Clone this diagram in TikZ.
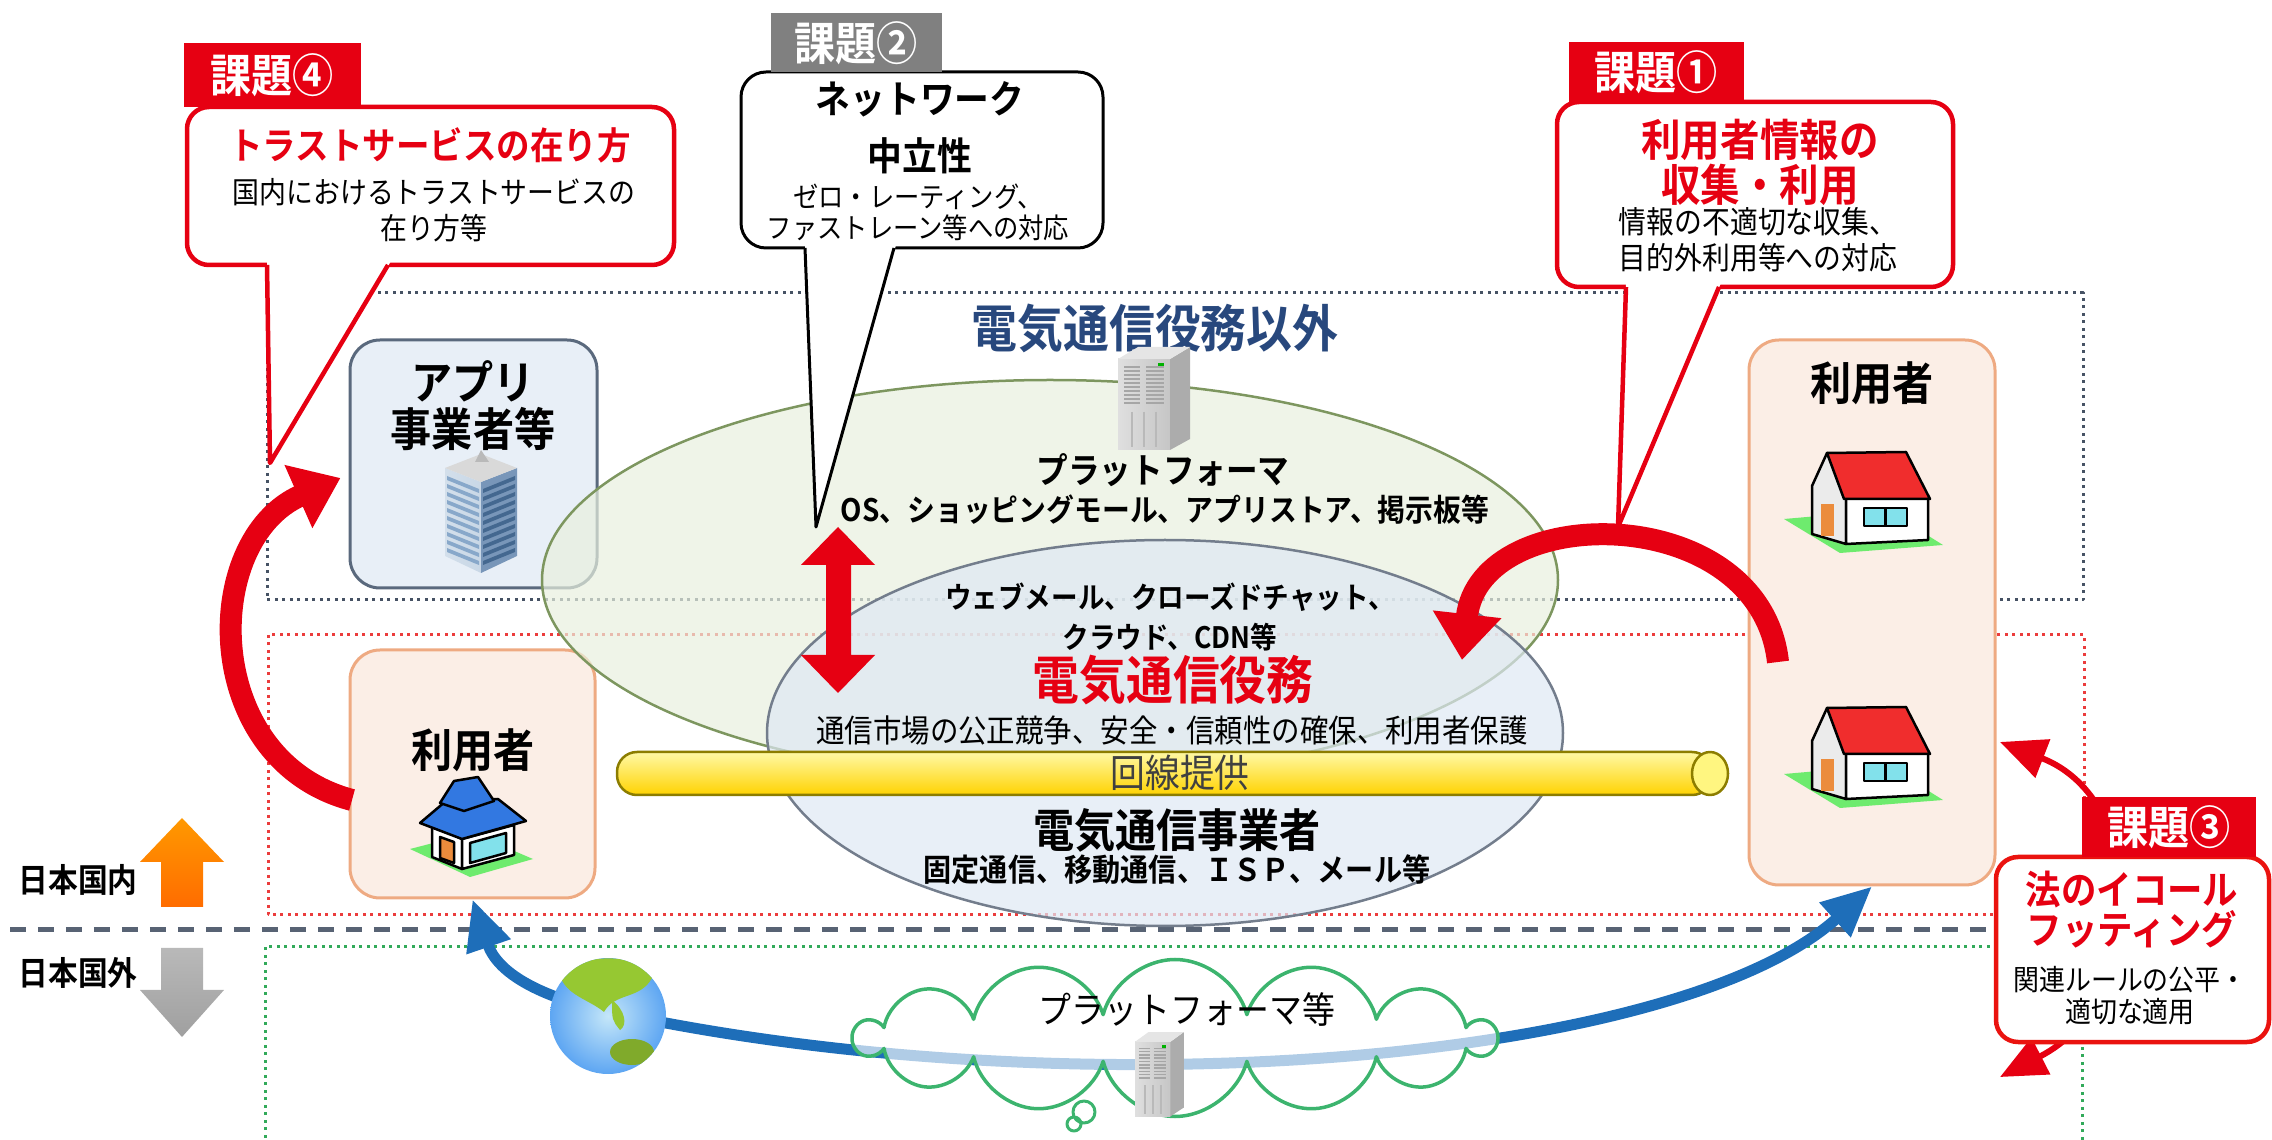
\documentclass[tikz,border=0pt]{standalone}
\usepackage{fontspec}
\setmainfont{Noto Sans CJK JP}[FakeStretch=0.9, BoldFont={Noto Sans CJK JP Bold}]
\usetikzlibrary{arrows.meta,shapes.symbols}

\definecolor{kred}{RGB}{230,0,18}
\definecolor{kgray}{RGB}{128,128,128}
\definecolor{navy}{RGB}{40,72,125}
\definecolor{slate}{RGB}{70,82,100}
\definecolor{dotred}{RGB}{235,60,60}
\definecolor{dotgreen}{RGB}{50,170,90}
\definecolor{pfgreen}{RGB}{232,240,222}
\definecolor{pfline}{RGB}{125,150,95}
\definecolor{tcblue}{RGB}{222,232,244}
\definecolor{tcline}{RGB}{115,125,140}
\definecolor{appfill}{RGB}{232,239,247}
\definecolor{appline}{RGB}{90,105,125}
\definecolor{userfill}{RGB}{251,238,230}
\definecolor{userline}{RGB}{238,170,130}
\definecolor{pipe}{RGB}{255,238,0}
\definecolor{pipeline}{RGB}{140,125,0}
\definecolor{arrowblue}{RGB}{30,110,185}
\definecolor{cloudline}{RGB}{60,180,110}
\definecolor{lawn}{RGB}{110,235,110}
\definecolor{roofred}{RGB}{240,45,45}
\definecolor{roofblue}{RGB}{50,120,225}
\definecolor{glass}{RGB}{130,225,235}
\definecolor{door}{RGB}{235,140,60}
\definecolor{landgreen}{RGB}{150,200,50}
\definecolor{sea}{RGB}{110,195,240}
\definecolor{towerlight}{RGB}{200,215,230}
\definecolor{towerdark}{RGB}{120,150,185}
\definecolor{towerband}{RGB}{85,130,180}

\newcommand{\fs}[2]{\fontsize{#1}{#2}\selectfont}

% small pictures: houses, tower, server
\newcommand{\redhouse}[1]{%
  \begin{scope}[shift={#1}, line width=0.25mm]
    \fill[lawn] (0,67) -- (103,58) -- (159,93) -- (56,101) -- cycle;
    \draw[fill=black!8] (28,34) -- (43,1) -- (62,45) -- (62,92) -- (28,82) -- cycle;
    \fill[door] (37,52) rectangle (50,84);
    \draw[fill=white] (62,45) -- (144,45) -- (144,88) -- (62,92) -- cycle;
    \draw[fill=roofred] (43,1) -- (122,0) -- (146,47) -- (60,47) -- cycle;
    \draw[fill=glass] (80,56) rectangle (123,74);
    \draw (101.5,56) -- (101.5,74);
  \end{scope}}
\newcommand{\bluehouse}[1]{%
  \begin{scope}[shift={#1}, line width=0.25mm]
    \fill[lawn] (0,74) -- (62,58) -- (123,84) -- (60,102) -- cycle;
    \draw[fill=white] (22,50) -- (52,64) -- (52,94) -- (22,82) -- cycle;
    \draw[fill=white] (52,64) -- (104,50) -- (104,80) -- (52,94) -- cycle;
    \draw[fill=glass] (60,68) -- (96,58) -- (96,78) -- (60,88) -- cycle;
    \draw[fill=door] (30,62) -- (44,67) -- (44,88) -- (30,83) -- cycle;
    \draw[fill=roofblue] (10,48) -- (52,64) -- (116,46) -- (88,24) -- (36,26) -- cycle;
    \draw[fill=roofblue] (30,28) -- (54,36) -- (84,26) -- (68,2) -- (44,6) -- cycle;
  \end{scope}}
\newcommand{\officetower}[1]{%
  \begin{scope}[shift={#1}]
    \shade[left color=towerlight!80!white, right color=towerlight] (0,18) -- (36,32) -- (36,123) -- (0,106) -- cycle;
    \fill[towerdark] (36,32) -- (72,18) -- (72,106) -- (36,123) -- cycle;
    \fill[gray!30] (0,18) -- (36,4) -- (72,18) -- (36,32) -- cycle;
    \fill[gray!55] (30,12) -- (36,0) -- (44,12) -- cycle;
    \foreach \k in {0,...,9} {
      \fill[towerband!70] (2,26+8*\k) -- (34,39+8*\k) -- (34,43+8*\k) -- (2,30+8*\k) -- cycle;
      \fill[towerband!80!black] (38,39+8*\k) -- (70,26+8*\k) -- (70,30+8*\k) -- (38,43+8*\k) -- cycle;
    }
  \end{scope}}
\newcommand{\servertower}[2]{%
  \begin{scope}[shift={#1}, #2]
    \shade[left color=gray!25, right color=gray!45] (0,12) rectangle (52,103);
    \fill[gray!65] (52,12) -- (72,0) -- (72,92) -- (52,103) -- cycle;
    \fill[gray!20] (0,12) -- (20,0) -- (72,0) -- (52,12) -- cycle;
    \foreach \k in {0,...,9}
      \draw[gray!70, line width=0.15mm] (6,20+4*\k) -- (22,20+4*\k) (28,20+4*\k) -- (46,20+4*\k);
    \fill[green!70!black] (40,16) rectangle (46,19);
    \draw[gray!55, line width=0.2mm] (14,65) -- (14,100) (26,65) -- (26,100) (38,65) -- (38,100);
  \end{scope}}

\begin{document}
\begin{tikzpicture}[x=0.1mm, y=-0.1mm, line join=round,
    region/.style={line width=0.3mm, dash pattern=on 0.3mm off 0.45mm},
    lbl/.style={inner sep=0pt, align=center},
    boxtitle/.style={lbl, font=\fs{13}{13.4}\bfseries},
    tab/.style={inner sep=0pt, text=white, font=\fs{13}{15}\bfseries},
    callout/.style={fill=white, draw=kred, line width=0.45mm, rounded corners=2.2mm},
    userbox/.style={fill=userfill, draw=userline, line width=0.3mm, rounded corners=3mm, inner sep=0pt},
    bigarrow/.style={kred, line width=2.2mm, -{Triangle[width=6.6mm,length=4.6mm]}},
    bluearrow/.style={arrowblue, line width=1.1mm, {Triangle[width=4.4mm,length=5mm]}-{Triangle[width=4.4mm,length=5mm]}},
  ]
  \useasboundingbox (0,0) rectangle (2272,1140);

  % three layers
  \draw[region, slate] (267,293) rectangle (2083,600);
  \draw[region, dotred] (268,635) rectangle (2084,915);
  \draw[region, dotgreen] (265,1160) -- (265,947) -- (2082,947) -- (2082,1160);
  \draw[slate!90, line width=0.5mm, dash pattern=on 1.6mm off 1.2mm] (10,930) -- (1990,930);

  % boxes for the players
  \node[userbox, fill=appfill, draw=appline, minimum width=24.7mm, minimum height=24.8mm] (app) at (473.5,464) {};
  \node[userbox, minimum width=24.5mm, minimum height=24.8mm] (userL) at (472.5,774) {};
  \node[userbox, minimum width=24.6mm, minimum height=54.5mm] (userR) at (1872,612.5) {};
  \node[boxtitle] (apptext) at (473,406) {アプリ\\事業者等};
  \node[boxtitle] (userLtext) at (473,750) {利用者};
  \node[boxtitle] (userRtext) at (1872,383) {利用者};
  \officetower{(445,450)}
  \bluehouse{(410,775)}
  \redhouse{(1784,452)}
  \redhouse{(1784,707)}

  % platform and telecom ellipses
  \draw[fill=pfgreen, fill opacity=0.7, draw=pfline, line width=0.25mm] (1050,580) ellipse [x radius=50.8mm, y radius=20mm];
  \draw[fill=tcblue, fill opacity=0.7, draw=tcline, line width=0.25mm] (1165,733) ellipse [x radius=39.8mm, y radius=19.3mm];

  % line offer pipe
  \shade[top color=pipe!35!white, middle color=pipe, bottom color=pipe!75!orange, rounded corners=2mm] (617,752) rectangle (1712,795);
  \draw[pipeline, line width=0.25mm, rounded corners=2mm] (617,752) rectangle (1712,795);
  \draw[pipeline, fill=pipe!50!white, line width=0.25mm] (1710,773.5) ellipse [x radius=1.8mm, y radius=2.15mm];
  \node[lbl, text=black!75, font=\fs{11}{12}] (line) at (1180,773) {回線提供};

  \node[lbl, text=navy, font=\fs{14.5}{16}\bfseries] (nontc) at (1155,328) {電気通信役務以外};
  \servertower{(1118,347)}{}
  \node[lbl, font=\fs{10}{11}\bfseries] (pf) at (1163,470) {プラットフォーマ};
  \node[lbl, font=\fs{8.8}{10}\bfseries] (pfex) at (1165,510) {OS、ショッピングモール、アプリストア、掲示板等};
  \node[lbl, font=\fs{8.4}{11.3}\bfseries] (mid) at (1170,617) {ウェブメール、クローズドチャット、\\クラウド、CDN等};
  \node[lbl, text=kred, font=\fs{14.8}{16}\bfseries] (tc) at (1173,680) {電気通信役務};
  \node[lbl, font=\fs{9}{10}] (tcex) at (1172,730) {通信市場の公正競争、安全・信頼性の確保、利用者保護};
  \node[lbl, font=\fs{13}{14}\bfseries] (carrier) at (1177,830) {電気通信事業者};
  \node[lbl, font=\fs{8.9}{10}\bfseries] (carrierex) at (1177,870) {固定通信、移動通信、ＩＳＰ、メール等};

  % red arrows
  \fill[kred] (838,527) -- (875,565) -- (851,565) -- (851,655) -- (875,655) -- (838,693)
    -- (801,655) -- (826,655) -- (826,565) -- (801,565) -- cycle;
  \coordinate (la) at (352,800);
  \draw[bigarrow] (la) .. controls (200,760) and (200,540) .. ([shift={(-0.8mm,-1.4mm)}]app.west);
  \coordinate (ra) at (1778,662);
  \coordinate (rb) at (1462,660);
  \draw[bigarrow] (ra) .. controls (1760,500) and (1480,500) .. (rb);
  \coordinate (c3a) at (2000,742);
  \coordinate (c3b) at (2000,1077);
  \draw[kred, line width=0.6mm, {Triangle[width=4mm,length=4.6mm]}-{Triangle[width=4mm,length=4.6mm]}]
    (c3a) .. controls (2150,800) and (2150,1000) .. (c3b);

  % outside Japan
  \draw[bluearrow] (userL.south) .. controls (500,980) and (560,1005) .. (640,1018)
    .. controls (1100,1110) and (1680,1060) .. (userR.south);
  \node[cloud, cloud puffs=14, cloud ignores aspect, draw=cloudline, line width=0.35mm,
    fill=white, fill opacity=0.65, minimum width=63.8mm, minimum height=15.7mm] (cloud) at (1175,1038) {};
  \draw[cloudline, line width=0.3mm] (1084,1112) circle [radius=1.1mm] (1074,1124) circle [radius=0.7mm];
  \node[lbl, font=\fs{10.4}{11}] (pfout) at (1187,1010) {プラットフォーマ等};
  \servertower{(1135,1032)}{xscale=0.68, yscale=0.82}
  \shade[inner color=sea!40!white, outer color=sea!85!blue] (608,1016) circle [radius=5.8mm];
  \begin{scope}
    \clip (608,1016) circle [radius=5.8mm];
    \fill[landgreen] (560,975) .. controls (590,950) and (640,955) .. (652,978)
      .. controls (640,1000) and (615,992) .. (604,1012) .. controls (590,1000) and (565,995) .. cycle;
    \fill[landgreen] (612,1000) .. controls (625,1010) and (628,1025) .. (620,1030) .. controls (612,1020) .. cycle;
    \fill[landgreen!85!black] (632,1052) ellipse [x radius=2.2mm, y radius=1.3mm];
  \end{scope}

  % domestic / overseas
  \node[lbl, font=\fs{9.4}{10}\bfseries] (dom) at (78,880) {日本国内};
  \shade[top color=orange!80!yellow, bottom color=orange!85!red] (182,818) -- (224,862) -- (203,862)
    -- (203,907) -- (161,907) -- (161,862) -- (140,862) -- cycle;
  \node[lbl, font=\fs{9.4}{10}\bfseries] (abr) at (78,973) {日本国外};
  \shade[top color=gray!55, bottom color=gray!75] (161,948) -- (203,948) -- (203,990) -- (224,990)
    -- (182,1037) -- (140,990) -- (161,990) -- cycle;

  % issue 4
  \draw[callout] (187,107) rectangle (674,265);
  \fill[white] (267,261) -- (391,261) -- (270,463) -- cycle;
  \draw[kred, line width=0.45mm] (267,265) -- (270,463) -- (388,265);
  \fill[kred] (184,43) rectangle (361,107);
  \node[tab] (t4) at (272,75) {課題④};
  \node[lbl, text=kred, font=\fs{10.6}{12}\bfseries] (c4t) at (430,145) {トラストサービスの在り方};
  \node[lbl, font=\fs{8.5}{10.2}] (c4s) at (434,210) {国内におけるトラストサービスの\\在り方等};

  % issue 2
  \draw[callout, draw=black, line width=0.3mm, rounded corners=2.5mm] (741,72) rectangle (1103,248);
  \fill[white] (805,245) -- (896,245) -- (816,527) -- cycle;
  \draw[black, line width=0.3mm] (805,248) -- (816,527) -- (894,248);
  \fill[kgray] (771,13) rectangle (942,72);
  \node[tab] (t2) at (856,43) {課題②};
  \node[lbl, font=\fs{11}{16.2}\bfseries] (c2t) at (920,128) {ネットワーク\\中立性};
  \node[lbl, font=\fs{8}{8.8}] (c2s) at (918,212) {ゼロ・レーティング、\\ファストレーン等への対応};

  % issue 1
  \draw[callout] (1557,102) rectangle (1953,287);
  \fill[white] (1626,283) -- (1721,283) -- (1618,527) -- cycle;
  \draw[kred, line width=0.45mm] (1626,287) -- (1618,527) -- (1719,287);
  \fill[kred] (1569,42) rectangle (1744,102);
  \node[tab] (t1) at (1656,72) {課題①};
  \node[lbl, text=kred, font=\fs{12.5}{12.8}\bfseries] (c1t) at (1760,162) {利用者情報の\\収集・利用};
  \node[lbl, font=\fs{8.8}{10.2}] (c1s) at (1758,240) {情報の不適切な収集、\\目的外利用等への対応};

  % issue 3
  \draw[callout, draw=kred!85!orange] (1996,857) rectangle (2269,1042);
  \fill[kred] (2082,797) rectangle (2256,857);
  \node[tab] (t3) at (2169,827) {課題③};
  \node[lbl, text=kred, font=\fs{11.2}{11.4}\bfseries] (c3t) at (2132,910) {法のイコール\\フッティング};
  \node[lbl, font=\fs{8.2}{9.1}] (c3s) at (2130,996) {関連ルールの公平・\\適切な適用};
\end{tikzpicture}
\end{document}
